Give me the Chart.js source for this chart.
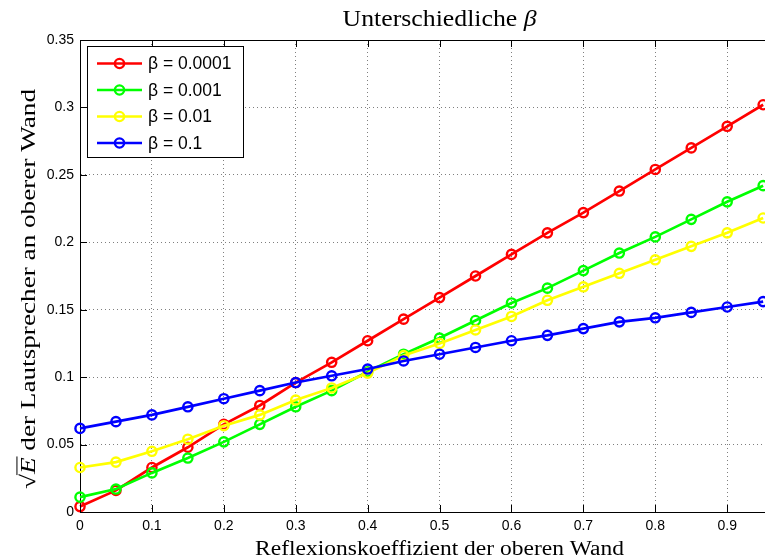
<!DOCTYPE html>
<html>
<head>
<meta charset="utf-8">
<script src="https://cdn.jsdelivr.net/npm/chart.js@4.4.1/dist/chart.umd.min.js"></script>
<style>
  html, body { margin: 0; padding: 0; background: #fff; overflow: hidden; }
  #wrap { width: 765px; height: 560px; overflow: hidden; position: relative; }
  canvas { display: block; }
</style>
</head>
<body>
<div id="wrap"><canvas id="chart" width="809" height="560"></canvas></div>
<script>
// Reflexionskoeffizient der oberen Wand (x values)
const reflexion = [0, 0.05, 0.1, 0.15, 0.2, 0.25, 0.3, 0.35, 0.4, 0.45,
                   0.5, 0.55, 0.6, 0.65, 0.7, 0.75, 0.8, 0.85, 0.9, 0.95];

// sqrt(E) at the upper wall, one list per damping value beta
const sqrtE_beta0001 = [0.004, 0.016, 0.033, 0.048, 0.065, 0.079, 0.096, 0.111, 0.127, 0.143,
                        0.159, 0.175, 0.191, 0.207, 0.222, 0.238, 0.254, 0.270, 0.286, 0.302];
const sqrtE_beta001  = [0.011, 0.017, 0.029, 0.040, 0.052, 0.065, 0.078, 0.090, 0.104, 0.117,
                        0.129, 0.142, 0.155, 0.166, 0.179, 0.192, 0.204, 0.217, 0.230, 0.242];
const sqrtE_beta01   = [0.033, 0.037, 0.045, 0.054, 0.064, 0.072, 0.083, 0.092, 0.103, 0.116,
                        0.125, 0.135, 0.145, 0.157, 0.167, 0.177, 0.187, 0.197, 0.207, 0.218];
const sqrtE_beta1    = [0.062, 0.067, 0.072, 0.078, 0.084, 0.090, 0.096, 0.101, 0.106, 0.112,
                        0.117, 0.122, 0.127, 0.131, 0.136, 0.141, 0.144, 0.148, 0.152, 0.156];

const seriesLabels = ['β = 0.0001', 'β = 0.001', 'β = 0.01', 'β = 0.1'];
const seriesColors = ['#ff0000', '#00ff00', '#ffff00', '#0000ff'];

// axis ticks
const xTicks = [0, 0.1, 0.2, 0.3, 0.4, 0.5, 0.6, 0.7, 0.8, 0.9, 1];
const yTicks = [0, 0.05, 0.1, 0.15, 0.2, 0.25, 0.3, 0.35];

const titleText = 'Unterschiedliche ';
const titleSymbol = 'β';
const xTitle = 'Reflexionskoeffizient der oberen Wand';
const yTitleRest = ' der Lautsprecher an oberer Wand';

const SERIF = '"Liberation Serif", "DejaVu Serif", serif';
const SANS = '"Liberation Sans", Arial, sans-serif';

const series = [sqrtE_beta0001, sqrtE_beta001, sqrtE_beta01, sqrtE_beta1];

const datasets = series.map((vals, i) => ({
  label: seriesLabels[i],
  data: reflexion.map((r, j) => ({ x: r, y: vals[j] })),
  borderColor: seriesColors[i],
  backgroundColor: seriesColors[i],
  borderWidth: 2.7,
  pointRadius: 4.6,
  pointHoverRadius: 4.6,
  pointBorderWidth: 2.4,
  pointBackgroundColor: 'rgba(0,0,0,0)',
  pointBorderColor: seriesColors[i],
  tension: 0,
  clip: false,
  order: series.length - i   // later series drawn on top
}));

// draws a run of [text, font] pieces, stretched horizontally to the given width
function drawRuns(ctx, runs, cx, baseline, width) {
  let natural = 0;
  runs.forEach(r => { ctx.font = r[1]; natural += ctx.measureText(r[0]).width; });
  const sx = width / natural;
  ctx.save();
  ctx.translate(cx - width / 2, baseline);
  ctx.scale(sx, 1);
  ctx.textAlign = 'left';
  ctx.textBaseline = 'alphabetic';
  let pos = 0;
  const spans = [];
  runs.forEach(r => {
    ctx.font = r[1];
    ctx.fillText(r[0], pos, 0);
    const w = ctx.measureText(r[0]).width;
    spans.push([pos, w]);
    pos += w;
  });
  ctx.restore();
  return { sx, spans, start: cx - width / 2 };
}

// frame, inward ticks, legend box and the serif titles
const decorations = {
  id: 'decorations',
  afterDraw(chart) {
    const { ctx, chartArea: a, scales: { x, y } } = chart;
    ctx.save();

    // top and right frame lines
    ctx.strokeStyle = '#000';
    ctx.lineWidth = 1;
    ctx.beginPath();
    ctx.moveTo(a.left, Math.round(a.top) + 0.5);
    ctx.lineTo(a.right, Math.round(a.top) + 0.5);
    ctx.moveTo(Math.round(a.right) + 0.5, a.top);
    ctx.lineTo(Math.round(a.right) + 0.5, a.bottom);
    ctx.stroke();

    // inward tick marks
    const tl = 7;
    ctx.beginPath();
    xTicks.forEach(v => {
      const px = Math.round(x.getPixelForValue(v)) + 0.5;
      ctx.moveTo(px, a.bottom); ctx.lineTo(px, a.bottom - tl);
      ctx.moveTo(px, a.top); ctx.lineTo(px, a.top + tl);
    });
    yTicks.forEach(v => {
      const py = Math.round(y.getPixelForValue(v)) + 0.5;
      ctx.moveTo(a.left, py); ctx.lineTo(a.left + tl, py);
      ctx.moveTo(a.right, py); ctx.lineTo(a.right - tl, py);
    });
    ctx.stroke();

    // legend
    const lx = 87.5, ly = 46.5, lw = 156, lh = 111;
    ctx.fillStyle = '#fff';
    ctx.fillRect(lx, ly, lw, lh);
    ctx.strokeStyle = '#000';
    ctx.lineWidth = 1;
    ctx.strokeRect(lx, ly, lw, lh);
    const rowY = [63.5, 90, 116.5, 143];
    chart.data.datasets.forEach((ds, i) => {
      const ry = rowY[i];
      ctx.strokeStyle = ds.borderColor;
      ctx.lineWidth = 2.7;
      ctx.beginPath();
      ctx.moveTo(97, ry); ctx.lineTo(142, ry);
      ctx.stroke();
      ctx.lineWidth = 2.4;
      ctx.beginPath();
      ctx.arc(119.5, ry, 4.6, 0, Math.PI * 2);
      ctx.stroke();
      ctx.fillStyle = '#000';
      ctx.font = '17.5px ' + SANS;
      ctx.textAlign = 'left';
      ctx.textBaseline = 'middle';
      ctx.fillText(ds.label, 148, ry + 1);
    });

    ctx.fillStyle = '#000';
    const cx = (a.left + a.right) / 2;

    // main title
    drawRuns(ctx, [[titleText, '24px ' + SERIF], [titleSymbol, 'italic 24px ' + SERIF]], cx, 26, 194);

    // x-axis title
    drawRuns(ctx, [[xTitle, '20px ' + SERIF]], cx, 555, 369);

    // y-axis title: sqrt(E) followed by the rest
    ctx.save();
    ctx.translate(35, 289);
    ctx.rotate(-Math.PI / 2);
    const fy = 21;
    const r = drawRuns(ctx, [['√', fy + 'px ' + SERIF], ['E', 'italic ' + fy + 'px ' + SERIF],
                             [yTitleRest, fy + 'px ' + SERIF]], 0, 0, 400);
    const eStart = r.start + r.spans[1][0] * r.sx;
    const eEnd = r.start + (r.spans[1][0] + r.spans[1][1]) * r.sx;
    ctx.strokeStyle = '#000';
    ctx.lineWidth = 1;
    ctx.beginPath();
    ctx.moveTo(eStart - 1, -fy * 0.86);
    ctx.lineTo(eEnd + 1, -fy * 0.86);
    ctx.stroke();
    ctx.restore();

    ctx.restore();
  }
};

const gridDash = [1, 3];
const gridColor = 'rgba(0,0,0,0.5)';

new Chart(document.getElementById('chart'), {
  type: 'line',
  data: { datasets },
  options: {
    responsive: false,
    animation: false,
    devicePixelRatio: 1,
    layout: { padding: { top: 40, right: 2, left: 0, bottom: 0 } },
    plugins: {
      legend: { display: false },
      tooltip: { enabled: false },
      title: { display: false }
    },
    scales: {
      x: {
        type: 'linear',
        min: 0,
        max: 1,
        afterBuildTicks: s => { s.ticks = xTicks.map(v => ({ value: v })); },
        afterFit: s => { s.height = 48; },
        ticks: {
          font: { family: SANS, size: 14 },
          color: '#000',
          padding: 6,
          maxRotation: 0,
          autoSkip: false,
          callback: v => String(v)
        },
        grid: { color: gridColor, lineWidth: 1, drawTicks: false },
        border: { display: true, color: '#000', width: 1, dash: gridDash }
      },
      y: {
        type: 'linear',
        min: 0,
        max: 0.35,
        afterBuildTicks: s => { s.ticks = yTicks.map(v => ({ value: v })); },
        afterFit: s => { s.width = 80; },
        ticks: {
          font: { family: SANS, size: 14 },
          color: '#000',
          padding: 6,
          autoSkip: false,
          callback: v => String(v)
        },
        grid: { color: gridColor, lineWidth: 1, drawTicks: false },
        border: { display: true, color: '#000', width: 1, dash: gridDash }
      }
    }
  },
  plugins: [decorations]
});
</script>
</body>
</html>
